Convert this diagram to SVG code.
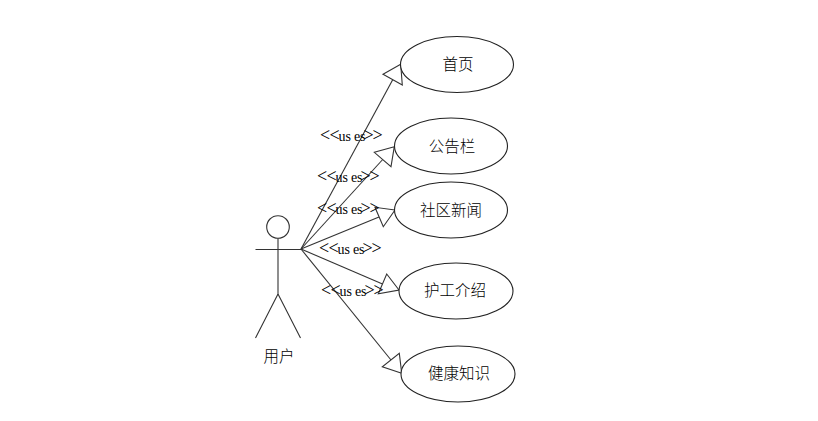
<svg xmlns="http://www.w3.org/2000/svg" width="818" height="421" viewBox="0 0 818 421">
<style>
.s{fill:none;stroke:#333;stroke-width:1.1}
.e{fill:#fff;stroke:#222;stroke-width:1.1}
.h{fill:#fff;stroke:#333;stroke-width:1.1}
.l{font-family:"Noto Sans CJK SC","Liberation Sans",sans-serif;font-size:15.500px;font-weight:300;fill:#000;text-anchor:middle}
.u{font-family:"Liberation Serif",serif;font-size:14px;fill:#000}
.u .b{font-size:18px}
</style>
<rect width="818" height="421" fill="#fff"/>
<g id="connectors">
<path class="s" d="M301 249L392.7 79.7"/><polygon class="h" points="400.7,64.3 383,74.3 402.3,85"/>
<path class="s" d="M301 249L382.7 159.5"/><polygon class="h" points="394.3,146.7 374.3,152.3 391,166.7"/>
<path class="s" d="M301 249L379 217"/><polygon class="h" points="395,210 375,207.3 383.3,226.7"/>
<path class="s" d="M301 249L382.5 284"/><polygon class="h" points="399,290 386.7,274 378.3,293.7"/>
<path class="s" d="M301 249L391 360"/><polygon class="h" points="401.7,373.3 382.3,366.7 399.3,353.3"/>
</g>
<g id="actor-user">
<circle class="s" cx="278" cy="227" r="11.3"/>
<path class="s" d="M278 238.300V294M255.500 249.500H301M278 294L255.500 338M278 294L300.500 338"/>
<text class="l" x="279" y="362">用户</text>
</g>
<g id="uc-home"><ellipse class="e" cx="457" cy="64.500" rx="56.500" ry="28"/><text class="l" x="458" y="70">首页</text></g>
<g id="uc-notice"><ellipse class="e" cx="451" cy="146" rx="56.500" ry="28"/><text class="l" x="452" y="152">公告栏</text></g>
<g id="uc-news"><ellipse class="e" cx="451" cy="210" rx="56.500" ry="28"/><text class="l" x="451" y="216">社区新闻</text></g>
<g id="uc-care"><ellipse class="e" cx="456" cy="291" rx="57" ry="28"/><text class="l" x="455" y="296">护工介绍</text></g>
<g id="uc-health"><ellipse class="e" cx="458" cy="374" rx="57" ry="28"/><text class="l" x="459" y="379">健康知识</text></g>
<g id="labels">
<text class="u" y="141"><tspan class="b" x="320 329.500">&lt;&lt;</tspan><tspan x="338.500 345.500 354 360">uses</tspan><tspan class="b" x="363.500 372.500">&gt;&gt;</tspan></text>
<text class="u" y="182"><tspan class="b" x="317 326.500">&lt;&lt;</tspan><tspan x="335.500 342.500 351 357">uses</tspan><tspan class="b" x="360.500 369.500">&gt;&gt;</tspan></text>
<text class="u" y="214"><tspan class="b" x="317 326.500">&lt;&lt;</tspan><tspan x="335.500 342.500 351 357">uses</tspan><tspan class="b" x="360.500 369.500">&gt;&gt;</tspan></text>
<text class="u" y="253.500"><tspan class="b" x="319 328.500">&lt;&lt;</tspan><tspan x="337.500 344.500 353 359">uses</tspan><tspan class="b" x="362.500 371.500">&gt;&gt;</tspan></text>
<text class="u" y="295.500"><tspan class="b" x="321 330.500">&lt;&lt;</tspan><tspan x="339.500 346.500 355 361">uses</tspan><tspan class="b" x="364.500 373.500">&gt;&gt;</tspan></text>
</g>
</svg>
